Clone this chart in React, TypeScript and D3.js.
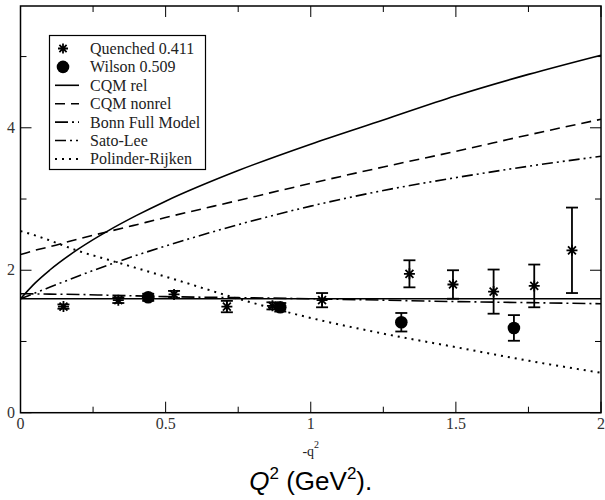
import React, { useEffect, useRef } from "react";
import * as d3 from "d3";

// lattice points
const quenchedX = [0.148, 0.337, 0.529, 0.711, 0.868, 1.039, 1.34, 1.49, 1.63, 1.77, 1.9];
const quenchedY = [1.49, 1.58, 1.66, 1.49, 1.5, 1.58, 1.95, 1.8, 1.7, 1.78, 2.28];
const quenchedErr = [0.03, 0.04, 0.05, 0.08, 0.05, 0.1, 0.19, 0.2, 0.31, 0.3, 0.6];

const wilsonX = [0.44, 0.895, 1.312, 1.7];
const wilsonY = [1.62, 1.48, 1.27, 1.19];
const wilsonErr = [0.05, 0.06, 0.13, 0.18];

// model curves, sampled on a common grid
const curveX = [0, 0.05, 0.1, 0.2, 0.3, 0.4, 0.5, 0.75, 1.0, 1.25, 1.5, 1.75, 2.0];
const cqmRel = [1.6, 1.82, 2.0, 2.3, 2.55, 2.77, 2.97, 3.4, 3.77, 4.11, 4.45, 4.75, 5.02];
const cqmNonrel = [2.22, 2.28, 2.33, 2.44, 2.54, 2.64, 2.74, 2.98, 3.22, 3.45, 3.67, 3.9, 4.12];
const bonn = [1.67, 1.668, 1.665, 1.66, 1.65, 1.64, 1.63, 1.615, 1.6, 1.58, 1.56, 1.545, 1.53];
const satoLee = [1.6, 1.68, 1.76, 1.92, 2.07, 2.21, 2.34, 2.64, 2.9, 3.12, 3.3, 3.46, 3.6];
const polinder = [2.55, 2.49, 2.42, 2.27, 2.15, 2.03, 1.91, 1.6, 1.33, 1.11, 0.92, 0.73, 0.56];
const flatLevel = 1.6;

const xMajor = [0, 0.5, 1, 1.5, 2];
const xMajorLabels = ["0", "0.5", "1", "1.5", "2"];
const xMinor = [0.25, 0.75, 1.25, 1.75];
const yMajor = [0, 2, 4];
const yMajorLabels = ["0", "2", "4"];
const yMinor = [1, 3, 5];

const legendLabels = [
  "Quenched 0.411",
  "Wilson 0.509",
  "CQM rel",
  "CQM nonrel",
  "Bonn Full Model",
  "Sato-Lee",
  "Polinder-Rijken",
];

const serif = '"Liberation Serif", "Times New Roman", "DejaVu Serif", serif';
const sans = '"Liberation Sans", Arial, sans-serif';

const App = () => {
  const svgRef = useRef(null);

  const drawChart = () => {
    if (!svgRef.current) return;
    document.body.style.margin = "0";
    const svg = d3.select(svgRef.current);
    svg.selectAll("*").remove();

    const x = d3.scaleLinear().domain([0, 2]).range([20.5, 601]);
    const y = d3.scaleLinear().domain([0, 5.71]).range([412.7, 6]);

    // frame
    svg
      .append("rect")
      .attr("x", x(0))
      .attr("y", y(5.71))
      .attr("width", x(2) - x(0))
      .attr("height", y(0) - y(5.71))
      .attr("fill", "none")
      .attr("stroke", "black")
      .attr("stroke-width", 1.5);

    // ticks on all four sides, pointing in
    const ticks = svg.append("g").attr("stroke", "black").attr("stroke-width", 1);
    const xTick = (v, len) => {
      ticks.append("line").attr("x1", x(v)).attr("x2", x(v)).attr("y1", y(0)).attr("y2", y(0) - len);
      ticks.append("line").attr("x1", x(v)).attr("x2", x(v)).attr("y1", y(5.71)).attr("y2", y(5.71) + len);
    };
    const yTick = (v, len) => {
      ticks.append("line").attr("x1", x(0)).attr("x2", x(0) + len).attr("y1", y(v)).attr("y2", y(v));
      ticks.append("line").attr("x1", x(2)).attr("x2", x(2) - len).attr("y1", y(v)).attr("y2", y(v));
    };
    xMajor.forEach((v) => xTick(v, 11));
    xMinor.forEach((v) => xTick(v, 6));
    yMajor.forEach((v) => yTick(v, 11));
    yMinor.forEach((v) => yTick(v, 6));

    // tick labels
    svg
      .selectAll(".xlab")
      .data(xMajor)
      .enter()
      .append("text")
      .attr("x", (d) => x(d))
      .attr("y", 429)
      .attr("text-anchor", "middle")
      .style("font-family", serif)
      .style("font-size", "16px")
      .attr("fill", "#333")
      .text((d, i) => xMajorLabels[i]);

    svg
      .selectAll(".ylab")
      .data(yMajor)
      .enter()
      .append("text")
      .attr("x", 15)
      .attr("y", (d) => y(d) + 5)
      .attr("text-anchor", "end")
      .style("font-family", serif)
      .style("font-size", "16px")
      .attr("fill", "#333")
      .text((d, i) => yMajorLabels[i]);

    // axis titles
    const q = svg
      .append("text")
      .attr("x", x(1))
      .attr("y", 456)
      .attr("text-anchor", "middle")
      .style("font-family", serif)
      .style("font-size", "14px")
      .attr("fill", "#222");
    q.append("tspan").text("-q");
    q.append("tspan").attr("dy", -8).style("font-size", "10px").text("2");

    const big = svg
      .append("text")
      .attr("x", x(1))
      .attr("y", 490)
      .attr("text-anchor", "middle")
      .style("font-family", sans)
      .style("font-size", "26px");
    big.append("tspan").style("font-style", "italic").text("Q");
    big.append("tspan").attr("dy", -11).style("font-size", "17px").text("2");
    big.append("tspan").attr("dy", 11).text(" (GeV");
    big.append("tspan").attr("dy", -11).style("font-size", "17px").text("2");
    big.append("tspan").attr("dy", 11).text(").");

    const plot = svg.append("g");

    const line = (vals) =>
      d3
        .line()
        .x((d, i) => x(curveX[i]))
        .y((d) => y(d))
        .curve(d3.curveMonotoneX)(vals);

    const styles = [
      { vals: cqmRel, dash: null },
      { vals: cqmNonrel, dash: "10,6" },
      { vals: bonn, dash: "13,4,2,4" },
      { vals: satoLee, dash: "11,4,2,4,2,4" },
      { vals: polinder, dash: "2,5" },
    ];

    plot
      .append("line")
      .attr("x1", x(0))
      .attr("x2", x(2))
      .attr("y1", y(flatLevel))
      .attr("y2", y(flatLevel))
      .attr("stroke", "black")
      .attr("stroke-width", 1.5);

    styles.forEach((s) => {
      plot
        .append("path")
        .attr("d", line(s.vals))
        .attr("fill", "none")
        .attr("stroke", "black")
        .attr("stroke-width", s.dash === "2,5" ? 2 : 1.6)
        .attr("stroke-dasharray", s.dash);
    });

    // error bars
    const errBar = (g, cx, v, e) => {
      const y1 = y(v + e);
      const y2 = y(v - e);
      g.append("line").attr("x1", cx).attr("x2", cx).attr("y1", y1).attr("y2", y2);
      g.append("line").attr("x1", cx - 6).attr("x2", cx + 6).attr("y1", y1).attr("y2", y1);
      g.append("line").attr("x1", cx - 6).attr("x2", cx + 6).attr("y1", y2).attr("y2", y2);
    };

    const starPath = (cx, cy, r) => {
      const d = r * 0.72;
      return `M${cx - r},${cy}H${cx + r}M${cx},${cy - r}V${cy + r}M${cx - d},${cy - d}L${cx + d},${cy + d}M${cx - d},${cy + d}L${cx + d},${cy - d}`;
    };

    const bars = plot.append("g").attr("stroke", "black").attr("stroke-width", 1.8);
    quenchedX.forEach((v, i) => errBar(bars, x(v), quenchedY[i], quenchedErr[i]));
    wilsonX.forEach((v, i) => errBar(bars, x(v), wilsonY[i], wilsonErr[i]));

    plot
      .selectAll(".star")
      .data(quenchedX)
      .enter()
      .append("path")
      .attr("d", (d, i) => starPath(x(d), y(quenchedY[i]), 5.5))
      .attr("stroke", "black")
      .attr("stroke-width", 1.8);

    plot
      .selectAll(".dot")
      .data(wilsonX)
      .enter()
      .append("circle")
      .attr("cx", (d) => x(d))
      .attr("cy", (d, i) => y(wilsonY[i]))
      .attr("r", 6.3)
      .attr("fill", "black");

    // legend
    const lg = svg.append("g");
    lg.append("rect")
      .attr("x", 49.5)
      .attr("y", 35.5)
      .attr("width", 156)
      .attr("height", 134)
      .attr("fill", "white")
      .attr("stroke", "black")
      .attr("stroke-width", 1.2);

    const rowY = (i) => 48.5 + i * 18.4;
    legendLabels.forEach((label, i) => {
      const cy = rowY(i);
      if (i === 0) {
        lg.append("path").attr("d", starPath(63, cy, 5)).attr("stroke", "black").attr("stroke-width", 1.8);
      } else if (i === 1) {
        lg.append("circle").attr("cx", 63).attr("cy", cy).attr("r", 6.3).attr("fill", "black");
      } else {
        const s = styles[i - 2];
        lg.append("line")
          .attr("x1", 55)
          .attr("x2", 79)
          .attr("y1", cy)
          .attr("y2", cy)
          .attr("stroke", "black")
          .attr("stroke-width", s.dash === "2,5" ? 2 : 1.6)
          .attr("stroke-dasharray", s.dash);
      }
      lg.append("text")
        .attr("x", 90)
        .attr("y", cy + 5.5)
        .style("font-family", serif)
        .style("font-size", "16px")
        .attr("fill", "#222")
        .text(label);
    });
  };

  useEffect(() => {
    drawChart();
  }, []);

  return <svg ref={svgRef} width={605} height={500} style={{ display: "block" }} />;
};

export default App;
